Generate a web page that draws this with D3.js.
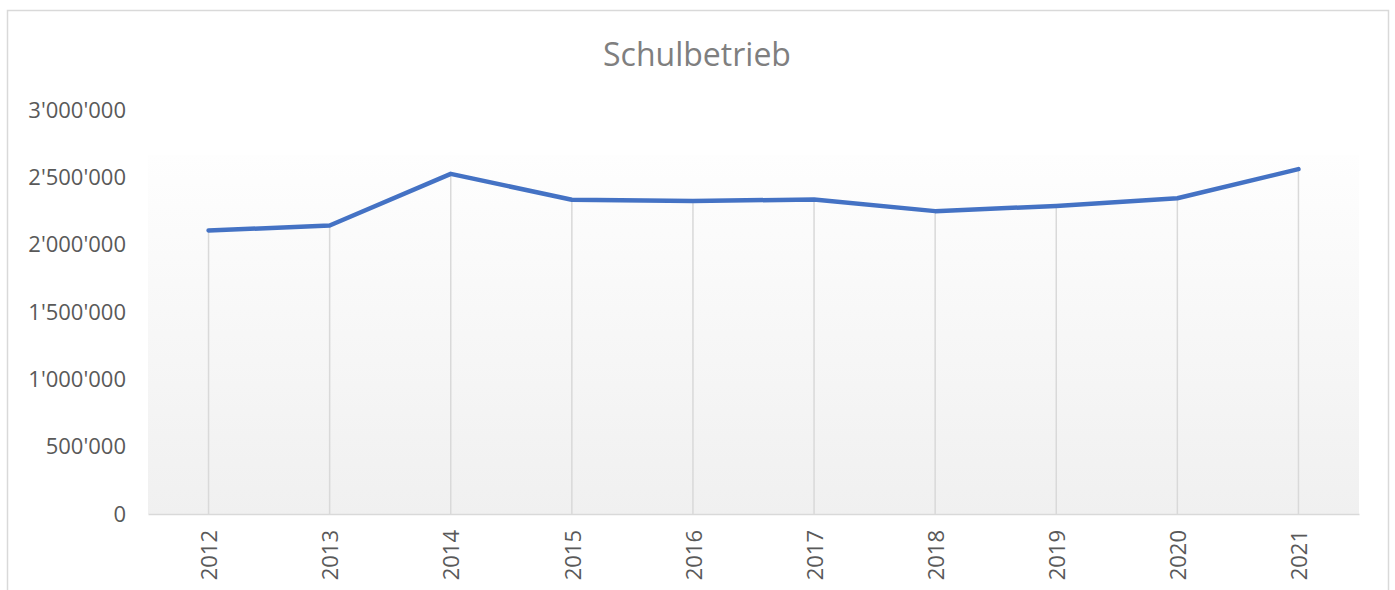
<!DOCTYPE html>
<html lang="de">
<head>
<meta charset="UTF-8">
<title>Schulbetrieb</title>
<script src="https://cdn.jsdelivr.net/npm/d3@7"></script>
<style>
    body { margin: 0; background: #fff; }
    text { font-family: "Open Sans", "Liberation Sans", Arial, sans-serif; }
</style>
</head>
<body>
<svg id="chart" width="1395" height="590"></svg>
<script>
    // data
    let years = ["2012", "2013", "2014", "2015", "2016", "2017", "2018", "2019", "2020", "2021"]
    let values = [2105000, 2142000, 2526000, 2333000, 2325000, 2335000, 2249000, 2288000, 2345000, 2561000]
    let y_ticks = [0, 500000, 1000000, 1500000, 2000000, 2500000, 3000000]

    let svg = d3.select("#chart")
    let font = "'Open Sans', 'Liberation Sans', Arial, sans-serif"

    // outer frame
    svg.append("rect")
        .attr("x", 7.5)
        .attr("y", 10.5)
        .attr("width", 1381)
        .attr("height", 600)
        .attr("fill", "#fff")
        .attr("stroke", "#d9d9d9")
        .attr("stroke-width", 1.5)

    let plot_left = 148, plot_right = 1359, plot_top = 110, plot_bottom = 514

    // scales
    let x_scale = d3.scaleBand()
        .domain(years)
        .range([plot_left, plot_right])

    let y_scale = d3.scaleLinear()
        .domain([0, 3000000])
        .range([plot_bottom, plot_top])

    // plot background gradient
    let grad = svg.append("defs").append("linearGradient")
        .attr("id", "bg")
        .attr("x1", 0).attr("y1", 0).attr("x2", 0).attr("y2", 1)
    grad.append("stop").attr("offset", "0%").attr("stop-color", "#fefefe")
    grad.append("stop").attr("offset", "100%").attr("stop-color", "#f0f0f0")

    svg.append("rect")
        .attr("x", plot_left)
        .attr("y", 155)
        .attr("width", plot_right - plot_left)
        .attr("height", plot_bottom - 155)
        .attr("fill", "url(#bg)")

    // title
    svg.append("text")
        .attr("x", 697)
        .attr("y", 66)
        .attr("text-anchor", "middle")
        .attr("fill", "#7f7f7f")
        .style("font-size", "32px")
        .text("Schulbetrieb")

    // y axis labels
    let fmt = d => d3.format(",")(d).replace(/,/g, "'")
    let y_axis = d3.axisLeft(y_scale)
        .tickValues(y_ticks)
        .tickFormat(fmt)
        .tickSize(0)
        .tickPadding(0)
    let gy = svg.append("g")
        .attr("transform", "translate(126,0)")
        .call(y_axis)
    gy.select(".domain").remove()
    gy.selectAll("text")
        .attr("fill", "#595959")
        .style("font-size", "22px")
        .style("font-family", font)

    // drop lines
    svg.append("g").selectAll("line")
        .data(years)
        .join("line")
        .attr("x1", d => x_scale(d) + x_scale.bandwidth() / 2)
        .attr("x2", d => x_scale(d) + x_scale.bandwidth() / 2)
        .attr("y1", (d, i) => y_scale(values[i]))
        .attr("y2", plot_bottom)
        .attr("stroke", "#d9d9d9")
        .attr("stroke-width", 1.5)

    // x axis
    let x_axis = d3.axisBottom(x_scale)
        .tickSize(0)
        .tickPadding(0)
    let gx = svg.append("g")
        .attr("transform", `translate(0,${plot_bottom})`)
        .call(x_axis)
    gx.select(".domain")
        .attr("stroke", "#d9d9d9")
        .attr("stroke-width", 1.5)
    gx.selectAll("text")
        .attr("fill", "#595959")
        .style("font-size", "22px")
        .style("font-family", font)
        .attr("text-anchor", "end")
        .attr("y", 0)
        .attr("dy", "0.35em")
        .attr("transform", "translate(1,16) rotate(-90)")

    // line
    let line = d3.line()
        .x(d => x_scale(d[0]) + x_scale.bandwidth() / 2)
        .y(d => y_scale(d[1]))

    svg.append("path")
        .datum(d3.zip(years, values))
        .attr("d", line)
        .attr("fill", "none")
        .attr("stroke", "#4472c4")
        .attr("stroke-width", 4.5)
        .attr("stroke-linejoin", "round")
        .attr("stroke-linecap", "round")
</script>
</body>
</html>
